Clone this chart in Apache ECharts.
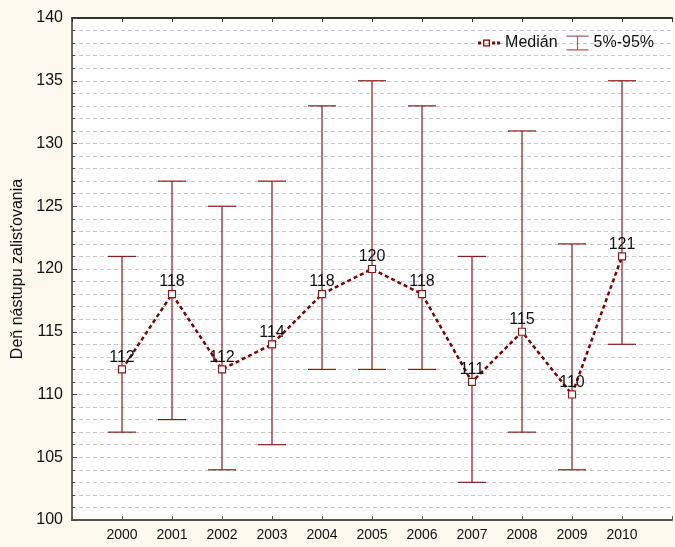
<!DOCTYPE html>
<html>
<head>
<meta charset="utf-8">
<script src="https://cdn.jsdelivr.net/npm/echarts@6/dist/echarts.min.js"></script>
<style>
  html, body { margin: 0; padding: 0; background: #fdf9ee; }
  #chart { width: 675px; height: 547px; }
</style>
</head>
<body>
<div id="chart"></div>
<script>
// Roky pozorovania
const years = [2000, 2001, 2002, 2003, 2004, 2005, 2006, 2007, 2008, 2009, 2010];
// Medián dňa nástupu
const median = [112, 118, 112, 114, 118, 120, 118, 111, 115, 110, 121];
// 5% a 95% kvantil
const p05 = [107, 108, 104, 106, 112, 112, 112, 103, 107, 104, 114];
const p95 = [121, 127, 125, 127, 133, 135, 133, 121, 131, 122, 135];

const RED = '#8b1a1a';
const FONT = 'Liberation Sans, Arial, sans-serif';

const chart = echarts.init(document.getElementById('chart'), null, { renderer: 'canvas' });

const barData = years.map((y, i) => [y, p05[i], p95[i]]);
const lineData = years.map((y, i) => [y, median[i]]);

const xCommon = {
  type: 'value',
  min: 1999,
  max: 2011,
  interval: 1,
  splitLine: { show: false }
};

chart.setOption({
  backgroundColor: '#fdf9ee',
  animation: false,
  textStyle: { fontFamily: FONT },
  grid: {
    left: 72, top: 18, right: -1, bottom: 27,
    show: true, backgroundColor: '#ffffff', borderWidth: 0
  },
  legend: {
    top: 30,
    right: 16,
    itemGap: 9,
    itemWidth: 22,
    itemHeight: 15,
    textStyle: { fontSize: 16, color: '#111', fontFamily: FONT },
    data: [
      {
        name: 'Medián',
        // dotted stroke with a hollow square marker
        icon: 'path://M0,6h3v3h-3z M5,4h7v7h-7z M6.3,5.3v4.4h4.4v-4.4z M14,6h3v3h-3z M19,6h3v3h-3z',
        itemStyle: { color: '#8b0000', borderWidth: 0 }
      },
      {
        name: '5%-95%',
        icon: 'path://M0,0h22v1.2h-22z M10.4,1.2h1.2v12.6h-1.2z M0,13.8h22v1.2h-22z',
        itemStyle: { color: '#b05a5a', borderWidth: 0 }
      }
    ]
  },
  xAxis: [
    Object.assign({}, xCommon, {
      position: 'bottom',
      axisLine: { show: true, onZero: false, lineStyle: { color: '#555', width: 2 } },
      axisTick: { show: true, inside: true, length: 4, lineStyle: { color: '#555' } },
      axisLabel: {
        margin: 8, fontSize: 14, color: '#111', fontFamily: FONT,
        formatter: v => (v >= 2000 && v <= 2010) ? String(v) : ''
      }
    }),
    Object.assign({}, xCommon, {
      position: 'top',
      axisLine: { show: true, onZero: false, lineStyle: { color: '#333', width: 2 } },
      axisTick: { show: true, inside: true, length: 4, lineStyle: { color: '#333' } },
      axisLabel: { show: false }
    })
  ],
  yAxis: {
    type: 'value',
    min: 100,
    max: 140,
    interval: 5,
    name: 'Deň nástupu zalisťovania',
    nameLocation: 'middle',
    nameGap: 42,
    nameRotate: 90,
    nameTextStyle: { fontSize: 16, color: '#111', fontFamily: FONT },
    axisLine: { show: true, lineStyle: { color: '#666', width: 2 } },
    axisTick: { show: true, inside: true, length: 5, lineStyle: { color: '#444' } },
    minorTick: { show: true, splitNumber: 5, length: 3, lineStyle: { color: '#444' } },
    axisLabel: { margin: 9, fontSize: 16, color: '#111', fontFamily: FONT },
    splitLine: { show: true, lineStyle: { color: '#c8c8c8', type: [4, 3] } },
    minorSplitLine: { show: true, lineStyle: { color: '#c8c8c8', type: [4, 3] } }
  },
  series: [
    {
      name: '5%-95%',
      type: 'custom',
      xAxisIndex: 0,
      z: 2,
      data: barData,
      encode: { x: 0, y: [1, 2] },
      renderItem: function (params, api) {
        const x = api.value(0);
        const lo = api.coord([x, api.value(1)]);
        const hi = api.coord([x, api.value(2)]);
        const half = 14;
        const style = { stroke: RED, lineWidth: 1.2 };
        return {
          type: 'group',
          children: [
            { type: 'line', shape: { x1: lo[0], y1: lo[1], x2: hi[0], y2: hi[1] }, style: style },
            { type: 'line', shape: { x1: lo[0] - half, y1: lo[1], x2: lo[0] + half, y2: lo[1] }, style: style },
            { type: 'line', shape: { x1: hi[0] - half, y1: hi[1], x2: hi[0] + half, y2: hi[1] }, style: style }
          ]
        };
      },
      itemStyle: { color: RED }
    },
    {
      name: 'Medián',
      type: 'line',
      xAxisIndex: 0,
      z: 5,
      data: lineData,
      symbol: 'rect',
      symbolSize: 7,
      itemStyle: { color: '#ffffff', borderColor: RED, borderWidth: 1.2 },
      lineStyle: { color: '#7f0000', width: 2.5, type: [4, 3] },
      label: {
        show: true,
        position: 'top',
        distance: 0,
        fontSize: 16,
        color: '#111',
        fontFamily: FONT,
        formatter: p => String(p.value[1])
      }
    }
  ]
});
</script>
</body>
</html>
